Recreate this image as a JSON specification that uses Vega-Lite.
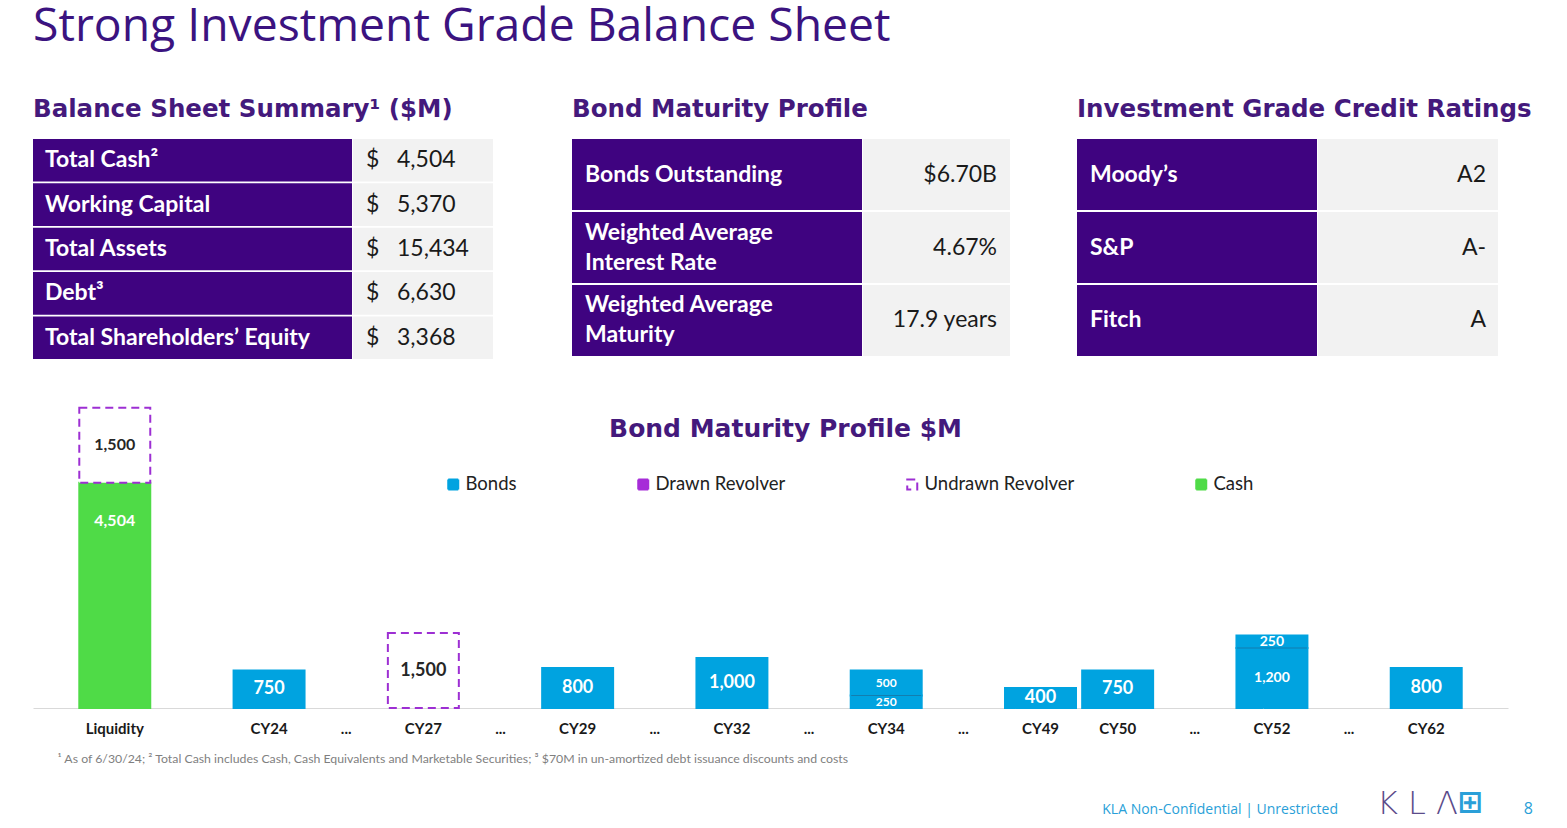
{
  "$schema": "https://vega.github.io/schema/vega-lite/v6.json",
  "background": "white",
  "padding": {"left": 33, "top": 4, "right": 0, "bottom": 0},
  "config": {"view": {"stroke": null}, "font": "Lato"},
  "title": {"text": "Strong Investment Grade Balance Sheet", "anchor": "start", "font": "Open Sans", "fontSize": 46.3, "fontWeight": "normal", "color": "#3B1380", "offset": 46},
  "datasets": {
    "summary": [
      {"item": "Total Cash²", "value": "$\u00a0\u00a0\u00a04,504"},
      {"item": "Working Capital", "value": "$\u00a0\u00a0\u00a05,370"},
      {"item": "Total Assets", "value": "$\u00a0\u00a0\u00a015,434"},
      {"item": "Debt³", "value": "$\u00a0\u00a0\u00a06,630"},
      {"item": "Total Shareholders’ Equity", "value": "$\u00a0\u00a0\u00a03,368"}
    ],
    "bondtable": [
      {"item": "Bonds Outstanding", "value": "$6.70B"},
      {"item": "Weighted Average\nInterest Rate", "value": "4.67%"},
      {"item": "Weighted Average\nMaturity", "value": "17.9 years"}
    ],
    "ratings": [
      {"item": "Moody’s", "value": "A2"},
      {"item": "S&P", "value": "A-"},
      {"item": "Fitch", "value": "A"}
    ],
    "profile": [
      {"slot": "Liquidity", "series": "Cash", "value": 4504, "ord": 1},
      {"slot": "Liquidity", "series": "Undrawn Revolver", "value": 1500, "ord": 2},
      {"slot": "CY24", "series": "Bonds", "value": 750, "ord": 1},
      {"slot": "CY27", "series": "Undrawn Revolver", "value": 1500, "ord": 1},
      {"slot": "CY29", "series": "Bonds", "value": 800, "ord": 1},
      {"slot": "CY32", "series": "Bonds", "value": 1000, "ord": 1},
      {"slot": "CY34", "series": "Bonds", "value": 250, "ord": 1},
      {"slot": "CY34", "series": "Bonds", "value": 500, "ord": 2},
      {"slot": "CY49", "series": "Bonds", "value": 400, "ord": 1},
      {"slot": "CY50", "series": "Bonds", "value": 750, "ord": 1},
      {"slot": "CY52", "series": "Bonds", "value": 1200, "ord": 1},
      {"slot": "CY52", "series": "Bonds", "value": 250, "ord": 2},
      {"slot": "CY62", "series": "Bonds", "value": 800, "ord": 1}
    ]
  },
  "spacing": 43,
  "vconcat": [
    {
      "spacing": 67,
      "hconcat": [
        {
          "spacing": 79,
          "hconcat": [
            {
              "title": {"text": "Balance Sheet Summary¹ ($M)", "anchor": "start", "font": "DejaVu Sans", "fontSize": 24.5, "fontWeight": "bold", "color": "#44197C", "offset": 17},
              "data": {"name": "summary"},
              "spacing": 1,
              "hconcat": [
                {
                  "width": 319, "height": 220,
                  "layer": [
                    {"mark": {"type": "rect", "color": "#3F0380"},
                     "encoding": {
                       "y": {"field": "item", "type": "nominal", "sort": null, "axis": null, "scale": {"paddingInner": 0.04, "paddingOuter": 0}},
                       "x": {"datum": "c", "type": "nominal", "axis": null, "scale": {"paddingInner": 0, "paddingOuter": 0}}}},
                    {"mark": {"type": "text", "align": "left", "baseline": "middle", "dx": 12, "color": "white", "font": "Lato", "fontSize": 23, "fontWeight": "bold"},
                     "encoding": {
                       "y": {"field": "item", "type": "nominal", "sort": null, "axis": null},
                       "x": {"datum": "c", "type": "nominal", "axis": null, "bandPosition": 0},
                       "text": {"field": "item"}}}
                  ]
                },
                {
                  "width": 140, "height": 220,
                  "layer": [
                    {"mark": {"type": "rect", "color": "#F2F2F2"},
                     "encoding": {
                       "y": {"field": "item", "type": "nominal", "sort": null, "axis": null, "scale": {"paddingInner": 0.04, "paddingOuter": 0}},
                       "x": {"datum": "c", "type": "nominal", "axis": null, "scale": {"paddingInner": 0, "paddingOuter": 0}}}},
                    {"mark": {"type": "text", "align": "left", "baseline": "middle", "dx": 13, "color": "#1A1A1A", "font": "Lato", "fontSize": 23},
                     "encoding": {
                       "y": {"field": "item", "type": "nominal", "sort": null, "axis": null},
                       "x": {"datum": "c", "type": "nominal", "axis": null, "bandPosition": 0},
                       "text": {"field": "value"}}}
                  ]
                }
              ]
            },
            {
              "title": {"text": "Bond Maturity Profile", "anchor": "start", "font": "DejaVu Sans", "fontSize": 24.5, "fontWeight": "bold", "color": "#44197C", "offset": 17},
              "data": {"name": "bondtable"},
              "spacing": 1,
              "hconcat": [
                {
                  "width": 290, "height": 217,
                  "layer": [
                    {"mark": {"type": "rect", "color": "#3F0380"},
                     "encoding": {
                       "y": {"field": "item", "type": "nominal", "sort": null, "axis": null, "scale": {"domain": ["Bonds Outstanding", "Weighted Average\nInterest Rate", "Weighted Average\nMaturity"], "paddingInner": 0.025, "paddingOuter": 0}},
                       "x": {"datum": "c", "type": "nominal", "axis": null, "scale": {"paddingInner": 0, "paddingOuter": 0}}}},
                    {"transform": [{"filter": "indexof(datum.item, '\\n') < 0"}],
                     "mark": {"type": "text", "align": "left", "baseline": "middle", "dx": 13, "color": "white", "font": "Lato", "fontSize": 23, "fontWeight": "bold"},
                     "encoding": {
                       "y": {"field": "item", "type": "nominal", "sort": null, "axis": null},
                       "x": {"datum": "c", "type": "nominal", "axis": null, "bandPosition": 0},
                       "text": {"field": "item"}}},
                    {"transform": [{"filter": "indexof(datum.item, '\\n') >= 0"}],
                     "mark": {"type": "text", "align": "left", "baseline": "middle", "dx": 13, "dy": -15, "color": "white", "font": "Lato", "fontSize": 23, "fontWeight": "bold", "lineBreak": "\n", "lineHeight": 30},
                     "encoding": {
                       "y": {"field": "item", "type": "nominal", "sort": null, "axis": null},
                       "x": {"datum": "c", "type": "nominal", "axis": null, "bandPosition": 0},
                       "text": {"field": "item"}}}
                  ]
                },
                {
                  "width": 147, "height": 217,
                  "layer": [
                    {"mark": {"type": "rect", "color": "#F2F2F2"},
                     "encoding": {
                       "y": {"field": "item", "type": "nominal", "sort": null, "axis": null, "scale": {"paddingInner": 0.025, "paddingOuter": 0}},
                       "x": {"datum": "c", "type": "nominal", "axis": null, "scale": {"paddingInner": 0, "paddingOuter": 0}}}},
                    {"mark": {"type": "text", "align": "right", "baseline": "middle", "dx": -13, "color": "#1A1A1A", "font": "Lato", "fontSize": 23},
                     "encoding": {
                       "y": {"field": "item", "type": "nominal", "sort": null, "axis": null},
                       "x": {"datum": "c", "type": "nominal", "axis": null, "bandPosition": 1},
                       "text": {"field": "value"}}}
                  ]
                }
              ]
            }
          ]
        },
        {
          "title": {"text": "Investment Grade Credit Ratings", "anchor": "start", "font": "DejaVu Sans", "fontSize": 24.5, "fontWeight": "bold", "color": "#44197C", "offset": 17},
          "data": {"name": "ratings"},
          "spacing": 1,
          "hconcat": [
            {
              "width": 240, "height": 217,
              "layer": [
                {"mark": {"type": "rect", "color": "#3F0380"},
                 "encoding": {
                   "y": {"field": "item", "type": "nominal", "sort": null, "axis": null, "scale": {"paddingInner": 0.025, "paddingOuter": 0}},
                   "x": {"datum": "c", "type": "nominal", "axis": null, "scale": {"paddingInner": 0, "paddingOuter": 0}}}},
                {"mark": {"type": "text", "align": "left", "baseline": "middle", "dx": 13, "color": "white", "font": "Lato", "fontSize": 23, "fontWeight": "bold"},
                 "encoding": {
                   "y": {"field": "item", "type": "nominal", "sort": null, "axis": null},
                   "x": {"datum": "c", "type": "nominal", "axis": null, "bandPosition": 0},
                   "text": {"field": "item"}}}
              ]
            },
            {
              "width": 180, "height": 217,
              "layer": [
                {"mark": {"type": "rect", "color": "#F2F2F2"},
                 "encoding": {
                   "y": {"field": "item", "type": "nominal", "sort": null, "axis": null, "scale": {"paddingInner": 0.025, "paddingOuter": 0}},
                   "x": {"datum": "c", "type": "nominal", "axis": null, "scale": {"paddingInner": 0, "paddingOuter": 0}}}},
                {"mark": {"type": "text", "align": "right", "baseline": "middle", "dx": -12, "color": "#1A1A1A", "font": "Lato", "fontSize": 23},
                 "encoding": {
                   "y": {"field": "item", "type": "nominal", "sort": null, "axis": null},
                   "x": {"datum": "c", "type": "nominal", "axis": null, "bandPosition": 1},
                   "text": {"field": "value"}}}
              ]
            }
          ]
        }
      ]
    },
    {
      "title": {"text": "⊞", "orient": "bottom", "anchor": "end", "font": "DejaVu Sans", "fontSize": 30, "fontWeight": "bold", "color": "#2A9FD8", "dx": -50, "offset": -32},
      "vconcat": [
        {
          "title": {"text": "K L Λ", "orient": "bottom", "anchor": "end", "font": "DejaVu Sans", "fontSize": 32, "fontWeight": 200, "color": "#5B4B8A", "dx": -75, "offset": -28},
          "vconcat": [
            {
              "title": {"text": "8", "orient": "bottom", "anchor": "end", "font": "Open Sans", "fontSize": 16, "fontWeight": "normal", "color": "#2A9FD8", "dx": 25, "offset": -16},
              "vconcat": [
                {
                  "title": {"text": "KLA Non-Confidential | Unrestricted", "orient": "bottom", "anchor": "end", "font": "Open Sans", "fontSize": 14, "fontWeight": "normal", "color": "#2A9FD8", "dx": -170, "offset": 39},
                  "vconcat": [
                    {
                      "data": {"name": "profile"},
                      "width": 1475,
                      "height": 306,
                      "title": {"text": "Bond Maturity Profile $M", "anchor": "middle", "dx": 15, "offset": -40, "font": "DejaVu Sans", "fontSize": 25, "fontWeight": "bold", "color": "#44197C"},
                      "encoding": {
                        "x": {
                          "field": "slot", "type": "nominal",
                          "scale": {"domain": ["Liquidity", "blank", "CY24", "gap1", "CY27", "gap2", "CY29", "gap3", "CY32", "gap4", "CY34", "gap5", "CY49", "CY50", "gap6", "CY52", "gap7", "CY62"], "paddingInner": 0.08, "paddingOuter": 0.6},
                          "axis": {
                            "title": "¹ As of 6/30/24; ² Total Cash includes Cash, Cash Equivalents and Marketable Securities; ³ $70M in un-amortized debt issuance discounts and costs",
                            "titleFont": "Lato", "titleFontSize": 12.3, "titleFontWeight": "normal", "titleColor": "#7F7F7F",
                            "titleX": 24, "titleY": 54, "titleAlign": "left", "titleBaseline": "alphabetic",
                            "labelExpr": "slice(datum.value, 0, 3) == 'gap' ? '...' : (datum.value == 'blank' ? '' : datum.value)",
                            "labelAngle": 0, "labelFont": "Lato", "labelFontSize": 15, "labelFontWeight": "bold", "labelColor": "#1A1A1A",
                            "labelPadding": 13, "ticks": false, "domainColor": "#D9D9D9", "domainWidth": 1
                          }
                        }
                      },
                      "layer": [
                        {
                          "mark": {"type": "bar", "strokeWidth": 2},
                          "encoding": {
                            "y": {"field": "value", "type": "quantitative", "stack": "zero", "scale": {"domain": [0, 6120], "nice": false}, "axis": null},
                            "fill": {"field": "series", "type": "nominal", "scale": {"domain": ["Bonds", "Drawn Revolver", "Undrawn Revolver", "Cash"], "range": ["#00A3E0", "#A62CD8", "#FFFFFF", "#4FDB47"]},
                              "legend": {"title": null, "orient": "none", "legendX": 411, "legendY": 336, "direction": "horizontal", "symbolType": "square", "symbolSize": 100, "symbolStrokeWidth": 2, "labelFont": "Lato", "labelFontSize": 18.5, "labelColor": "#222222", "columnPadding": 117, "labelOffset": 3}},
                            "stroke": {"field": "series", "type": "nominal", "scale": {"domain": ["Bonds", "Drawn Revolver", "Undrawn Revolver", "Cash"], "range": ["#00A3E0", "#A62CD8", "#9D2FD3", "#4FDB47"]},
                              "legend": {"title": null, "orient": "none", "legendX": 411, "legendY": 336, "direction": "horizontal", "symbolType": "square", "symbolSize": 100, "symbolStrokeWidth": 2, "labelFont": "Lato", "labelFontSize": 18.5, "labelColor": "#222222", "columnPadding": 117, "labelOffset": 3}},
                            "strokeDash": {"field": "series", "type": "nominal", "scale": {"domain": ["Bonds", "Drawn Revolver", "Undrawn Revolver", "Cash"], "range": [[1, 0], [1, 0], [8, 5], [1, 0]]},
                              "legend": {"title": null, "orient": "none", "legendX": 411, "legendY": 336, "direction": "horizontal", "symbolType": "square", "symbolSize": 100, "symbolStrokeWidth": 2, "labelFont": "Lato", "labelFontSize": 18.5, "labelColor": "#222222", "columnPadding": 117, "labelOffset": 3}},
                            "order": {"field": "ord", "type": "quantitative"}
                          }
                        },
                        {
                          "transform": [
                            {"joinaggregate": [{"op": "count", "as": "n"}], "groupby": ["slot"]},
                            {"filter": "datum.n > 1 && datum.ord == 1 && datum.series == 'Bonds'"}
                          ],
                          "mark": {"type": "tick", "orient": "horizontal", "color": "#1B6E9A", "thickness": 1, "size": 70},
                          "encoding": {"y": {"field": "value", "type": "quantitative"}}
                        },
                        {
                          "mark": {"type": "text", "font": "Lato", "fontWeight": "bold", "baseline": "middle"},
                          "encoding": {
                            "y": {"field": "value", "type": "quantitative", "stack": "zero", "bandPosition": 0.5},
                            "detail": {"field": "series"},
                            "order": {"field": "ord", "type": "quantitative"},
                            "text": {"field": "value", "type": "quantitative", "format": ",", "condition": {"test": "datum.series == 'Cash'", "value": ""}},
                            "color": {"condition": {"test": "datum.series == 'Undrawn Revolver'", "value": "#262626"}, "value": "white"},
                            "size": {"condition": [{"test": "datum.slot == 'CY34'", "value": 12}, {"test": "datum.slot == 'CY52'", "value": 14}, {"test": "datum.slot == 'Liquidity'", "value": 16}], "value": 18}
                          }
                        },
                        {
                          "transform": [{"filter": "datum.series == 'Cash'"}],
                          "mark": {"type": "text", "font": "Lato", "fontWeight": "bold", "baseline": "middle", "dy": 38, "color": "white", "fontSize": 16},
                          "encoding": {
                            "y": {"field": "value", "type": "quantitative"},
                            "text": {"field": "value", "type": "quantitative", "format": ","}
                          }
                        }
                      ]
                    }
                  ]
                }
              ]
            }
          ]
        }
      ]
    }
  ]
}
